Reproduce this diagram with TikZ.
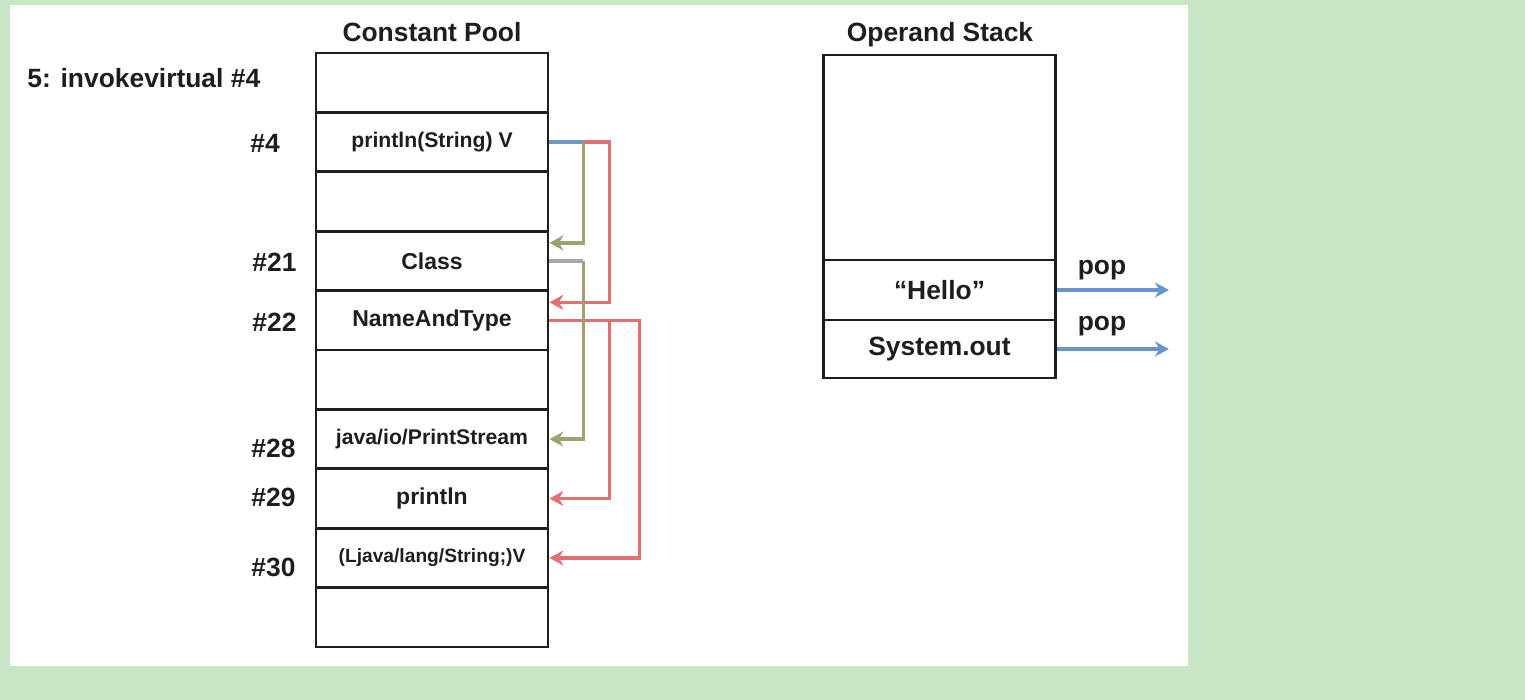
\documentclass[tikz,border=0pt]{standalone}
\usepackage{fontspec}
\setmainfont{Liberation Sans}
\usetikzlibrary{arrows.meta}

\definecolor{bggreen}{RGB}{200,229,197}
\definecolor{linkred}{RGB}{226,112,112}
\definecolor{linkolive}{RGB}{163,160,112}
\definecolor{linkblue}{RGB}{112,150,196}
\definecolor{linkgray}{RGB}{165,168,170}
\definecolor{popblue}{RGB}{104,150,204}
\definecolor{ink}{RGB}{30,30,30}

\tikzset{
  cell/.style={draw=ink,line width=1.4pt,minimum width=116pt,minimum height=29.7pt,
    inner sep=0pt,text=ink,font=\bfseries\fontsize{11.5}{13}\selectfont},
  small/.style={font=\bfseries\fontsize{10.6}{12}\selectfont},
  tiny/.style={font=\bfseries\fontsize{9.6}{11}\selectfont},
  big/.style={text=ink,inner sep=0pt,font=\bfseries\fontsize{13.2}{15}\selectfont},
  link/.style={line width=1.7pt,-{Stealth[length=7pt,width=7.5pt]}},
}

\begin{document}
\begin{tikzpicture}[x=0.5pt,y=-0.5pt]
\useasboundingbox (0,0) rectangle (1525,700);
\fill[bggreen] (0,0) rectangle (1525,700);
\fill[white] (10,5) rectangle (1188,666);

% constant pool
\node[big] (cptitle) at (432,32) {Constant Pool};
\node[big,anchor=west] (instr) at (27,78) {5: invokevirtual \#4};
\node[cell] (c0) at (432,82.7) {};
\node[cell,small] (c1) at (432,142.1) {println(String) V};
\node[cell] (c2) at (432,201.5) {};
\node[cell] (c3) at (432,260.9) {Class};
\node[cell] (c4) at (432,320.3) {NameAndType};
\node[cell] (c5) at (432,379.7) {};
\node[cell,small] (c6) at (432,439.1) {java/io/PrintStream};
\node[cell] (c7) at (432,498.5) {println};
\node[cell,tiny] (c8) at (432,557.9) {(Ljava/lang/String;)V};
\node[cell] (c9) at (432,617.3) {};

% indices
\node[big,anchor=west] (i4) at (250,143) {\#4};
\node[big,anchor=west] (i21) at (252,262) {\#21};
\node[big,anchor=west] (i22) at (252,322) {\#22};
\node[big,anchor=west] (i28) at (251,448) {\#28};
\node[big,anchor=west] (i29) at (251,497) {\#29};
\node[big,anchor=west] (i30) at (251,567) {\#30};

% links
\draw[link,linkred] (c1.east) -- ++(60,0) |- ([yshift=9pt]c4.east);
\draw[link,linkred] (c4.east) -- ++(90,0) |- (c8.east);
\draw[link,linkred] (c4.east) -- ++(60,0) |- (c7.east);
\draw[link,linkolive] ([xshift=17pt]c1.east) |- ([yshift=9pt]c3.east);
\draw[link,linkolive] ([xshift=17pt]c3.east) |- (c6.east);
\draw[line width=1.7pt,linkgray] (c3.east) -- ++(34,0);
\draw[line width=1.7pt,linkblue] (c1.east) -- ++(34,0);

% operand stack
\node[big] (sttitle) at (940,35) {Operand Stack};
\node[cell,minimum height=102.5pt] (s0) at (939.5,157.5) {};
\node[cell,big,minimum height=30pt] (s1) at (939.5,290) {“Hello”};
\node[cell,big,minimum height=29pt] (s2) at (939.5,349) {System.out};
\draw[link,popblue] (s1.east) -- ++(112,0);
\draw[link,popblue] (s2.east) -- ++(112,0);
\node[big] (pop1) at (1102,270) {pop};
\node[big] (pop2) at (1102,326) {pop};
\end{tikzpicture}
\end{document}
